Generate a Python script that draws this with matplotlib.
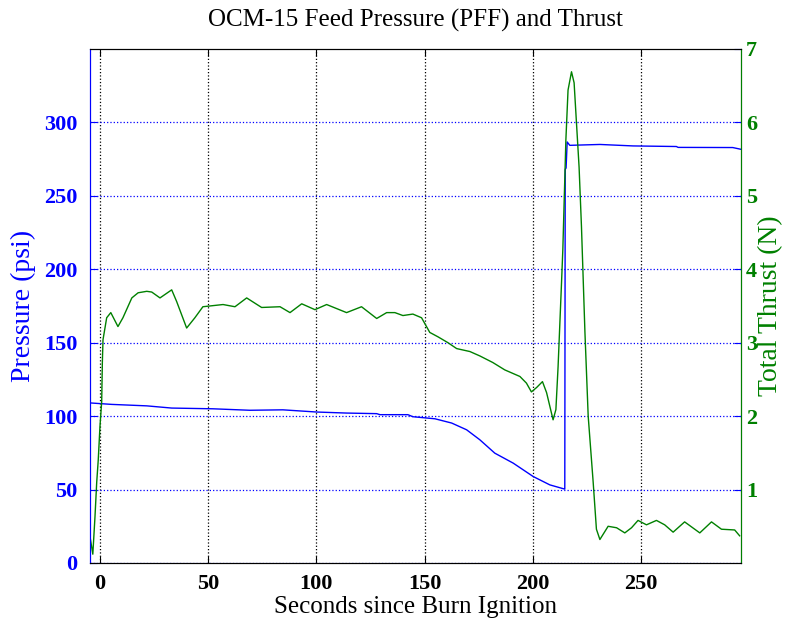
import numpy as np
import matplotlib
matplotlib.use("Agg")
import matplotlib.pyplot as plt

# -----------------------------
# Data
# -----------------------------
pressure_t = [-4.4, 5.6, 21.8, 33.3, 52.4, 69.4, 84.6, 100.2, 114.0, 127.9,
              129.4, 142.3, 144.6, 154.8, 162.5, 169.4, 175.5, 182.4, 190.9,
              200.1, 207.8, 214.7, 214.9, 215.3, 215.8, 217.0, 230.9, 246.2,
              266.2, 267.0, 292.2, 296.0]
pressure_psi = [109, 108, 107, 105.5, 105, 104, 104.3, 102.8, 102.1, 101.7,
                101, 101, 99.6, 98.2, 95.3, 90.7, 83.9, 74.8, 68,
                58.9, 53.2, 50.3, 268, 269, 286.7, 284.4, 285, 284,
                283.6, 283, 282.9, 281.7]

thrust_t = [-4.4, -3.1, -2.1, -1.3, -0.6, 0.2, 1.0, 1.3, 1.6, 3.3, 5.2, 8.5,
            10.8, 14.9, 17.8, 21.8, 24.1, 27.9, 33.3, 35.6, 40.2, 44.0, 47.7,
            57.0, 62.5, 67.9, 74.8, 83.3, 87.9, 93.3, 99.4, 104.8, 114.0,
            120.9, 127.9, 132.5, 136.3, 140.0, 144.6, 148.6, 152.4, 156.2,
            160.8, 164.8, 170.9, 175.5, 181.5, 187.0, 194.0, 197.0, 199.3,
            201.7, 204.4, 206.3, 209.3, 210.6, 211.6, 213.2, 213.8, 215.2,
            216.2, 217.8, 219.0, 220.1, 221.3, 222.4, 224.0, 225.5, 227.8,
            229.3, 230.9, 234.7, 238.6, 242.4, 245.5, 248.5, 252.4, 257.0,
            260.8, 264.7, 270.0, 277.0, 282.4, 287.0, 293.1, 295.4]
thrust_n = [0.36, 0.12, 0.63, 1.1, 1.4, 1.86, 2.2, 2.73, 3.04, 3.34, 3.41, 3.22,
            3.34, 3.61, 3.68, 3.70, 3.69, 3.61, 3.72, 3.56, 3.20, 3.34, 3.49,
            3.52, 3.49, 3.61, 3.48, 3.49, 3.41, 3.53, 3.45, 3.52, 3.41,
            3.49, 3.33, 3.41, 3.41, 3.37, 3.39, 3.34, 3.14, 3.08,
            3.00, 2.92, 2.88, 2.82, 2.73, 2.63, 2.54, 2.45, 2.33,
            2.39, 2.47, 2.32, 1.95, 2.09, 2.67, 3.82, 4.27, 5.76,
            6.44, 6.69, 6.54, 5.99, 5.39, 4.58, 3.14, 2.0, 1.1,
            0.46, 0.32, 0.50, 0.48, 0.41, 0.48, 0.58, 0.52, 0.58,
            0.52, 0.42, 0.56, 0.41, 0.56, 0.46, 0.45, 0.37]

x_ticks = [0, 50, 100, 150, 200, 250]
p_ticks = [0, 50, 100, 150, 200, 250, 300]
f_ticks = [1, 2, 3, 4, 5, 6, 7]

blue = "#0000ff"
green = "#008000"

plt.rcParams["font.family"] = ["Liberation Serif", "DejaVu Serif"]

fig = plt.figure(figsize=(7.86, 6.25), dpi=100)
ax = fig.add_axes([0.1145, 0.0992, 0.8282, 0.8224])
ax2 = ax.twinx()

ax.plot(pressure_t, pressure_psi, color=blue, lw=1.0)
ax2.plot(thrust_t, thrust_n, color=green, lw=1.0)

ax.set_xlim(-4.4, 296)
ax.set_ylim(0, 350)
ax2.set_ylim(0, 7)

ax.set_xticks(x_ticks)
ax.set_yticks(p_ticks)
ax2.set_yticks(f_ticks)

ax.grid(axis="x", color="k", ls=":", lw=0.9)
ax.grid(axis="y", color=blue, ls=":", lw=0.9)

ax.tick_params(axis="x", direction="in", top=True, colors="k", labelsize=16,
               length=5, pad=8)
ax.tick_params(axis="y", direction="in", colors=blue, labelsize=16, length=5,
               pad=9)
ax2.tick_params(axis="y", direction="in", color=blue, labelcolor=green,
                labelsize=16, length=5)
for lbl in ax.get_xticklabels() + ax.get_yticklabels() + ax2.get_yticklabels():
    lbl.set_fontweight("bold")

ax.spines["left"].set_color(blue)
ax2.spines["left"].set_color(blue)
ax2.spines["right"].set_color(green)

ax.set_xlabel("Seconds since Burn Ignition", fontsize=18, labelpad=1)
ax.set_ylabel("Pressure (psi)", fontsize=20, color=blue, labelpad=6)
ax2.set_ylabel("Total Thrust (N)", fontsize=20, color=green, labelpad=1)
ax.set_title("OCM-15 Feed Pressure (PFF) and Thrust", fontsize=18, pad=16)

fig.savefig("out.png", dpi=100)
